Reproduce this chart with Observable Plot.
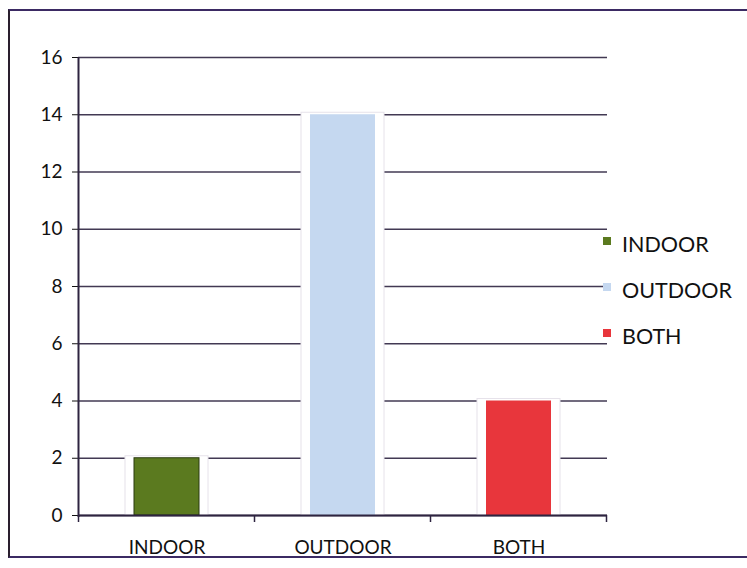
<!DOCTYPE html>
<html>
<head>
<meta charset="utf-8">
<script src="https://cdn.jsdelivr.net/npm/d3@7"></script>
<script src="https://cdn.jsdelivr.net/npm/@observablehq/plot@0.6"></script>
<style>
  html, body { margin: 0; padding: 0; background: #fff; }
  #wrap { position: relative; width: 747px; height: 568px; overflow: hidden; font-family: Lato, sans-serif; }
  #frame { position: absolute; left: 8px; top: 9px; width: 800px; height: 549px; border-left: 2px solid #2a1f2e; border-top: 2px solid #3b2a63; border-bottom: 2px solid #3b2a63; border-right: none; box-sizing: border-box; }
  #legend { position: absolute; left: 603px; top: 231px; font-size: 21.5px; color: #111; }
  #legend div { height: 46px; display: flex; align-items: flex-start; }
  #legend span.sw { display: inline-block; width: 8px; height: 8px; margin-right: 11px; margin-top: 6px; }
</style>
</head>
<body>
<div id="wrap">
  <div id="frame"></div>
  <div id="chart" style="position:absolute;left:0;top:0"></div>
  <div id="legend"></div>
</div>
<script>
const categories = ["INDOOR", "OUTDOOR", "BOTH"];
const values = [2, 14, 4];
const colors = ["#5b7a1f", "#c5d8f0", "#e8363c"];
const yTicks = [0, 2, 4, 6, 8, 10, 12, 14, 16];

const data = categories.map((c, i) => ({category: c, value: values[i], color: colors[i]}));
const gridColor = "#2e2440";

const plot = Plot.plot({
  width: 747,
  height: 568,
  marginLeft: 78,
  marginRight: 140,
  marginTop: 57,
  marginBottom: 53,
  style: {fontFamily: "Lato, sans-serif", fontSize: "19px", color: "#111", background: "transparent"},
  x: {domain: categories, paddingInner: 0.63, paddingOuter: 0.315, label: null},
  y: {domain: [0, 16], ticks: yTicks, label: null},
  marks: [
    Plot.ruleY(yTicks, {stroke: gridColor, strokeWidth: 1.5, strokeOpacity: 0.9}),
    Plot.barY(data, {x: "category", y: "value", fill: "#fff", stroke: "#e6e2ea", strokeWidth: 1, insetLeft: -9, insetRight: -9, insetTop: -2}),
    Plot.barY(data, {x: "category", y: "value", fill: "color", stroke: d => d.category === "INDOOR" ? "#2a3a10" : "none", strokeWidth: 1}),
    Plot.axisY({ticks: yTicks, tickSize: 6, tickPadding: 10, fontSize: 19}),
    Plot.axisX({tickSize: 0, tickPadding: 25, fontSize: 19}),
    Plot.ruleY([0], {stroke: gridColor, strokeWidth: 2.2})
  ]
});
document.getElementById("chart").appendChild(plot);
d3.select(plot).selectAll("text").style("font-size", "19px").style("fill", "#111");

// vertical y-axis line and category-boundary ticks, derived from the scales
const xs = plot.scale("x"), ys = plot.scale("y");
const svg = d3.select(plot);
const y0 = ys.apply(0), y16 = ys.apply(16);
const firstCenter = xs.apply(categories[0]) + xs.bandwidth / 2;
const x0 = firstCenter - xs.step / 2;
svg.append("line").attr("x1", x0).attr("x2", x0).attr("y1", y16).attr("y2", y0 + 2)
  .attr("stroke", gridColor).attr("stroke-width", 2);
for (let i = 0; i <= categories.length; i++) {
  const bx = firstCenter - xs.step / 2 + i * xs.step;
  svg.append("line").attr("x1", bx).attr("x2", bx).attr("y1", y0).attr("y2", y0 + 7)
    .attr("stroke", gridColor).attr("stroke-width", 1.5);
}

const legend = document.getElementById("legend");
categories.forEach((c, i) => {
  const row = document.createElement("div");
  row.innerHTML = `<span class="sw" style="background:${colors[i]}"></span><span>${c}</span>`;
  legend.appendChild(row);
});
</script>
</body>
</html>
